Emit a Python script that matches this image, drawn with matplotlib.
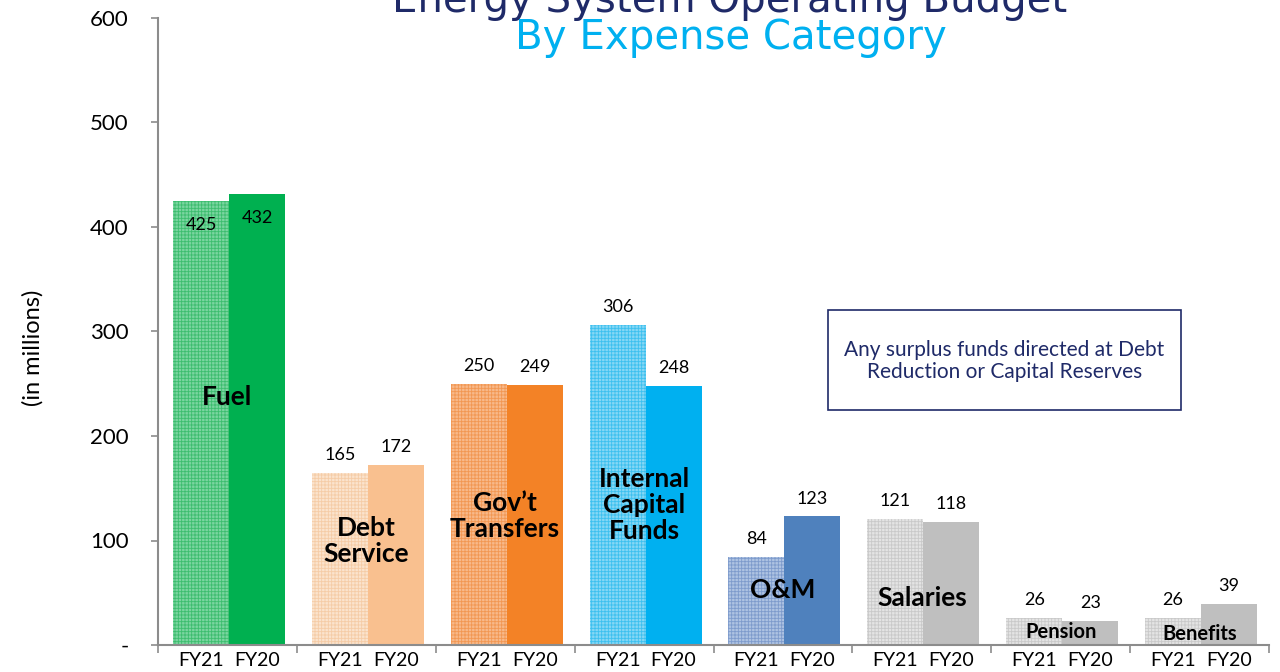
import numpy as np
import matplotlib.pyplot as plt
from matplotlib.patches import Rectangle

# Budget values (millions)
categories = ["Fuel", "Debt\nService", "Gov\u2019t\nTransfers", "Internal\nCapital\nFunds",
              "O&M", "Salaries", "Pension", "Benefits"]
fy21 = [425, 165, 250, 306, 84, 121, 26, 26]
fy20 = [432, 172, 249, 248, 123, 118, 23, 39]
years = ["FY21", "FY20"]
yticks = [0, 100, 200, 300, 400, 500, 600]
ytick_labels = ["-", "100", "200", "300", "400", "500", "600"]

# colours: (FY21 face, FY21 hatch, FY20 solid)
colors = [
    ("#7AD5A0", "#3CBD6E", "#00B050"),
    ("#FBE3CD", "#F5CCA6", "#F9C08F"),
    ("#F8B98A", "#F29752", "#F38226"),
    ("#85D7F5", "#3CC0EF", "#00B0F0"),
    ("#AEC3E2", "#7D9BCC", "#4F81BD"),
    ("#E4E4E4", "#C9C9C9", "#BFBFBF"),
    ("#E4E4E4", "#C9C9C9", "#BFBFBF"),
    ("#E4E4E4", "#C9C9C9", "#BFBFBF"),
]
cat_label_y = [237, 100, 123, 134, 53, 45, 12, 11]
cat_label_size = [19, 19, 19, 19, 19, 19, 14.5, 14.5]

plt.rcParams['font.family'] = ['Lato', 'DejaVu Sans']
plt.rcParams['hatch.linewidth'] = 0.6

fig = plt.figure(figsize=(12.8, 6.72), dpi=100)
ax = fig.add_axes([158 / 1280, 27 / 672, 1111 / 1280, 627 / 672])

n = len(categories)
x = np.arange(n)
bw = 0.403
off = 0.108
for i in range(n):
    f21, h21, c20 = colors[i]
    ax.bar(x[i] + off, fy21[i], width=bw, align='edge', color=f21,
           edgecolor=h21, hatch='+++++', linewidth=0)
    ax.bar(x[i] + off + bw, fy20[i], width=bw, align='edge', color=c20, linewidth=0)

    # value labels (inside the tall fuel bars, above the others)
    dy = -23 if i == 0 else 17
    ax.text(x[i] + off + bw / 2, fy21[i] + dy, str(fy21[i]), ha='center', va='center', fontsize=13)
    ax.text(x[i] + off + 1.5 * bw, fy20[i] + dy, str(fy20[i]), ha='center', va='center', fontsize=13)

    ax.text(x[i] + 0.5, cat_label_y[i], categories[i], ha='center', va='center',
            fontsize=cat_label_size[i], fontweight='bold', linespacing=1.1)

ax.set_xlim(0, n)
ax.set_ylim(0, 600)

centers = np.concatenate([x + off + bw / 2, x + off + 1.5 * bw])
labels = [years[0]] * n + [years[1]] * n
ax.set_xticks(centers)
ax.set_xticklabels(labels, fontsize=14)
ax.set_xticks(np.arange(n + 1), minor=True)
ax.tick_params(axis='x', which='major', length=0, pad=5)
ax.tick_params(axis='x', which='minor', length=6, color='#8C8C8C', width=1.2)

ax.set_yticks(yticks)
ax.set_yticklabels(ytick_labels, fontsize=16)
ax.tick_params(axis='y', length=5, color='#8C8C8C', width=1.2, pad=16)
ax.set_ylabel("(in millions)", fontsize=17)
ax.yaxis.set_label_coords(-0.103, 0.474)

for s in ['top', 'right']:
    ax.spines[s].set_visible(False)
for s in ['left', 'bottom']:
    ax.spines[s].set_color('#8C8C8C')
    ax.spines[s].set_linewidth(1.5)

# title (top line is clipped by the slide edge, as in the original slide)
fig.text(730 / 1280, 1 - 12 / 672, "Energy System Operating Budget", ha='center', va='baseline',
         fontsize=29, color='#1F2A68', family='DejaVu Sans')
fig.text(731 / 1280, 1 - 49 / 672, "By Expense Category", ha='center', va='baseline',
         fontsize=29, color='#00B0F0', family='DejaVu Sans')

# note box
fig.patches.append(Rectangle((828 / 1280, 1 - 410 / 672), 353 / 1280, 100 / 672,
                             transform=fig.transFigure, fill=False, edgecolor='#1F2A68', linewidth=1.2))
fig.text(1004.5 / 1280, 1 - 361 / 672, "Any surplus funds directed at Debt\nReduction or Capital Reserves",
         ha='center', va='center', fontsize=15, color='#1F2A68', linespacing=1.1)

fig.savefig("out.png", dpi=100)
